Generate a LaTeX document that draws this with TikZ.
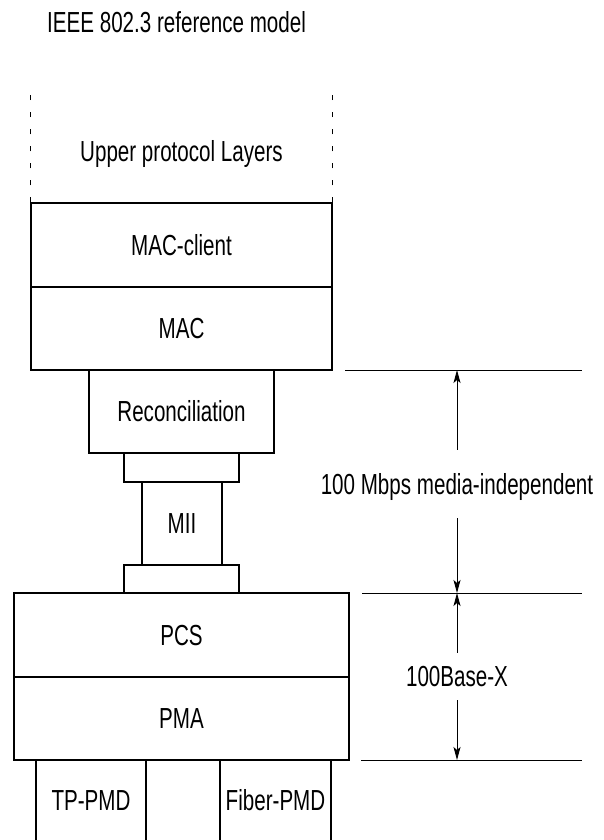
\documentclass[tikz,border=0pt]{standalone}
\usepackage{fontspec}
\setmainfont{Liberation Sans}[FakeStretch=0.71]
\usetikzlibrary{calc}
\usetikzlibrary{arrows.meta}

\begin{document}
\begin{tikzpicture}[x=1pt, y=-1pt,
    every node/.style={font=\fontsize{29}{34}\selectfont, inner sep=0pt,
      text height=20.8pt, text depth=0pt},
    layer/.style 2 args={draw, line width=1.5pt, minimum width=#1, minimum height=#2},
    rule/.style={line width=1pt},
    dim/.style={-{Stealth[length=13pt, width=7pt, inset=3pt]}, line width=0.9pt},
    open side/.style={dash pattern=on 5pt off 12pt, line width=1pt}]
  \useasboundingbox (0,0) rectangle (603,840);
  \node [anchor=base west, text height=] (title) at (47,33) {IEEE 802.3 reference model};
  \node (upper) at (181.5,151.5) {Upper protocol Layers};
  \node [layer={301}{84}] (macclient) at (181.5,245) {MAC-client};
  \node [layer={301}{83}] (mac) at (181.5,328.5) {MAC};
  \node [layer={185}{83}] (recon) at (181.5,411.5) {Reconciliation};
  \node [layer={115}{29}] (rsif) at (181.5,467.5) {};
  \node [layer={80}{83}] (mii) at (182,523.5) {MII};
  \node [layer={115}{28}] (phyif) at (181.5,579) {};
  \node [layer={335}{84}] (pcs) at (181.5,635) {PCS};
  \node [layer={335}{83}] (pma) at (181.5,718.5) {PMA};
  \node [minimum width=110, minimum height=80] (tppmd) at (91,800) {TP-PMD};
  \node [minimum width=111, minimum height=80] (fiberpmd) at (275.5,800) {Fiber-PMD};
  \draw [line width=1.5pt] (tppmd.south west) -- (tppmd.north west) -- (tppmd.north east) -- (tppmd.south east);
  \draw [line width=1.5pt] (fiberpmd.south west) -- (fiberpmd.north west) -- (fiberpmd.north east) -- (fiberpmd.south east);
  \coordinate (upper top) at (0,95);
  \draw [open side] (macclient.north west) -- (macclient.north west |- upper top);
  \draw [open side] (macclient.north east) -- (macclient.north east |- upper top);
  \coordinate (mi start) at (345,370);
  \coordinate (mi end) at (582,370);
  \coordinate (x start) at (362,593);
  \coordinate (x end) at (582,593);
  \coordinate (pmd start) at (361,760);
  \coordinate (pmd end) at (582,760);
  \draw [rule] (mi start) -- (mi end);
  \draw [rule] (x start) -- (x end);
  \draw [rule] (pmd start) -- (pmd end);
  \node [minimum height=68] (mbps) at (457,484) {100 Mbps media-independent};
  \node [minimum height=47] (basex) at (457,676.5) {100Base-X};
  \draw [dim] (mbps.north) -- (mbps.north |- mi start);
  \draw [dim] (mbps.south) -- (mbps.south |- x start);
  \draw [dim] (basex.north) -- (basex.north |- x start);
  \draw [dim] (basex.south) -- (basex.south |- pmd start);
\end{tikzpicture}
\end{document}
